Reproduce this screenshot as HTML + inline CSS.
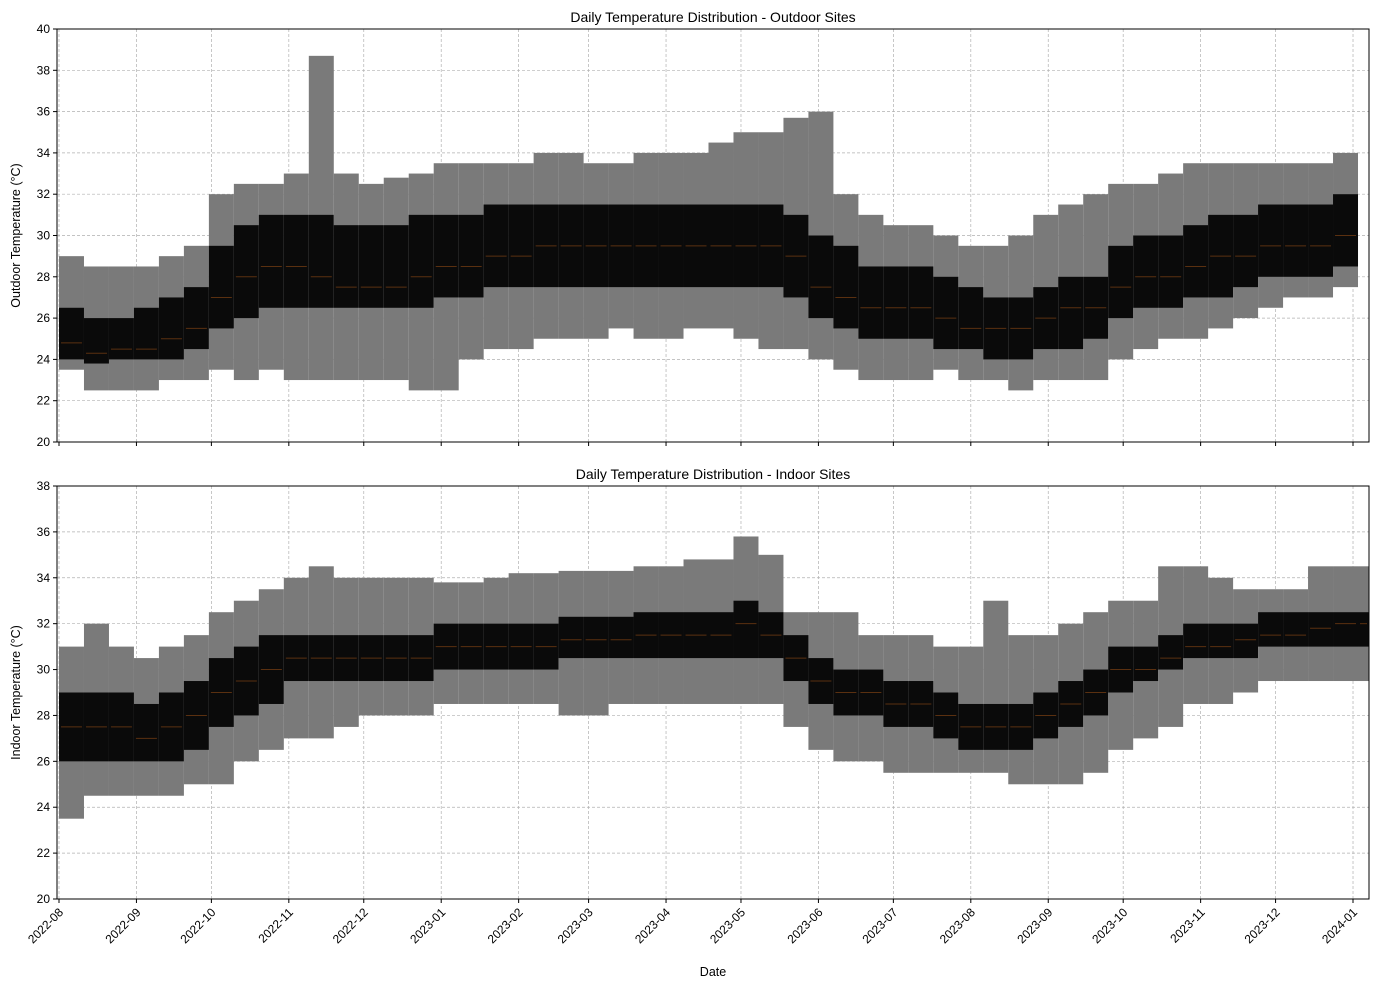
<!DOCTYPE html>
<html><head><meta charset="utf-8"><style>
body{margin:0;background:#fff;font-family:"Liberation Sans",sans-serif}
svg text{font-family:"Liberation Sans",sans-serif;fill:#000}
</style></head><body>
<svg id="c" width="1387" height="989" xmlns="http://www.w3.org/2000/svg"></svg>
<script>
const tickLabels=["2022-08","2022-09","2022-10","2022-11","2022-12","2023-01","2023-02","2023-03","2023-04","2023-05","2023-06","2023-07","2023-08","2023-09","2023-10","2023-11","2023-12","2024-01"];
const tickDays=[0,31,61,92,122,153,184,212,243,273,304,334,365,396,426,457,487,518];
const binDays=10;
const topLo=[23.5,22.5,22.5,22.5,23,23,23.5,23,23.5,23,23,23,23,23,22.5,22.5,24,24.5,24.5,25,25,25,25.5,25,25,25.5,25.5,25,24.5,24.5,24,23.5,23,23,23,23.5,23,23,22.5,23,23,23,24,24.5,25,25,25.5,26,26.5,27,27,27.5];
const topQ1=[24,23.8,24,24,24,24.5,25.5,26,26.5,26.5,26.5,26.5,26.5,26.5,26.5,27,27,27.5,27.5,27.5,27.5,27.5,27.5,27.5,27.5,27.5,27.5,27.5,27.5,27,26,25.5,25,25,25,24.5,24.5,24,24,24.5,24.5,25,26,26.5,26.5,27,27,27.5,28,28,28,28.5];
const topMed=[24.8,24.3,24.5,24.5,25,25.5,27,28,28.5,28.5,28,27.5,27.5,27.5,28,28.5,28.5,29,29,29.5,29.5,29.5,29.5,29.5,29.5,29.5,29.5,29.5,29.5,29,27.5,27,26.5,26.5,26.5,26,25.5,25.5,25.5,26,26.5,26.5,27.5,28,28,28.5,29,29,29.5,29.5,29.5,30];
const topQ3=[26.5,26,26,26.5,27,27.5,29.5,30.5,31,31,31,30.5,30.5,30.5,31,31,31,31.5,31.5,31.5,31.5,31.5,31.5,31.5,31.5,31.5,31.5,31.5,31.5,31,30,29.5,28.5,28.5,28.5,28,27.5,27,27,27.5,28,28,29.5,30,30,30.5,31,31,31.5,31.5,31.5,32];
const topHi=[29,28.5,28.5,28.5,29,29.5,32,32.5,32.5,33,38.7,33,32.5,32.8,33,33.5,33.5,33.5,33.5,34,34,33.5,33.5,34,34,34,34.5,35,35,35.7,36,32,31,30.5,30.5,30,29.5,29.5,30,31,31.5,32,32.5,32.5,33,33.5,33.5,33.5,33.5,33.5,33.5,34];
const botLo=[23.5,24.5,24.5,24.5,24.5,25,25,26,26.5,27,27,27.5,28,28,28,28.5,28.5,28.5,28.5,28.5,28,28,28.5,28.5,28.5,28.5,28.5,28.5,28.5,27.5,26.5,26,26,25.5,25.5,25.5,25.5,25.5,25,25,25,25.5,26.5,27,27.5,28.5,28.5,29,29.5,29.5,29.5,29.5,29.5];
const botQ1=[26,26,26,26,26,26.5,27.5,28,28.5,29.5,29.5,29.5,29.5,29.5,29.5,30,30,30,30,30,30.5,30.5,30.5,30.5,30.5,30.5,30.5,30.5,30.5,29.5,28.5,28,28,27.5,27.5,27,26.5,26.5,26.5,27,27.5,28,29,29.5,30,30.5,30.5,30.5,31,31,31,31,31];
const botMed=[27.5,27.5,27.5,27,27.5,28,29,29.5,30,30.5,30.5,30.5,30.5,30.5,30.5,31,31,31,31,31,31.3,31.3,31.3,31.5,31.5,31.5,31.5,32,31.5,30.5,29.5,29,29,28.5,28.5,28,27.5,27.5,27.5,28,28.5,29,30,30,30.5,31,31,31.3,31.5,31.5,31.8,32,32];
const botQ3=[29,29,29,28.5,29,29.5,30.5,31,31.5,31.5,31.5,31.5,31.5,31.5,31.5,32,32,32,32,32,32.3,32.3,32.3,32.5,32.5,32.5,32.5,33,32.5,31.5,30.5,30,30,29.5,29.5,29,28.5,28.5,28.5,29,29.5,30,31,31,31.5,32,32,32,32.5,32.5,32.5,32.5,32.5];
const botHi=[31,32,31,30.5,31,31.5,32.5,33,33.5,34,34.5,34,34,34,34,33.8,33.8,34,34.2,34.2,34.3,34.3,34.3,34.5,34.5,34.8,34.8,35.8,35,32.5,32.5,32.5,31.5,31.5,31.5,31,31,33,31.5,31.5,32,32.5,33,33,34.5,34.5,34,33.5,33.5,33.5,34.5,34.5,34.5];

const svg=document.getElementById('c');const NS='http://www.w3.org/2000/svg';
function mk(t,a,p){const e=document.createElementNS(NS,t);for(const k in a)e.setAttribute(k,a[k]);(p||svg).appendChild(e);return e;}
const X0=57,X1=1369,d0=-0.8,d1=524.4;
const xs=d=>X0+(d-d0)/(d1-d0)*(X1-X0);
function panel(name,top,bot,ymax,title,ylab,lo,q1,med,q3,hi,showX){
  const ys=v=>bot-(v-20)/(ymax-20)*(bot-top);
  const g=mk('g',{});
  
  
  for(let v=20;v<=ymax;v+=2){
    const gl=mk('line',{x1:X0,x2:X1,y1:ys(v),y2:ys(v),stroke:'#b0b0b0','stroke-width':0.7,'stroke-dasharray':'3,2'},g);
    
    
    mk('line',{x1:X0-4,x2:X0,y1:ys(v),y2:ys(v),stroke:'#000'},g);
    const t=mk('text',{x:X0-7,y:ys(v)+4,'text-anchor':'end','font-size':12},g);t.textContent=v;
    
    
  }
  tickDays.forEach((d,i)=>{
    const x=xs(d);
    mk('line',{x1:x,x2:x,y1:top,y2:bot,stroke:'#b0b0b0','stroke-width':0.7,'stroke-dasharray':'3,2'},g);
    mk('line',{x1:x,x2:x,y1:bot,y2:bot+4,stroke:'#000'},g);
    if(showX){const t=mk('text',{transform:`translate(${x+5},${bot+14}) rotate(-45)`,'text-anchor':'end','font-size':12},g);t.textContent=tickLabels[i];
      
      }
  });
  lo.forEach((v,i)=>{
    const xa=xs(i*binDays),xb=xs(Math.min((i+1)*binDays,d1));
    const w=mk('rect',{x:xa,y:ys(hi[i]),width:xb-xa,height:ys(v)-ys(hi[i]),fill:'#7a7a7a'},g);
    
    
    const b=mk('rect',{x:xa,y:ys(q3[i]),width:xb-xa,height:ys(q1[i])-ys(q3[i]),fill:'#0a0a0a'},g);
    
    
    mk('line',{x1:xa+2,x2:xb-2,y1:ys(med[i]),y2:ys(med[i]),stroke:'#5a3010','stroke-width':1},g);
  });
  mk('rect',{x:X0,y:top,width:X1-X0,height:bot-top,fill:'none',stroke:'#000'},g);
  const tt=mk('text',{x:(X0+X1)/2,y:top-7,'text-anchor':'middle','font-size':14},g);tt.textContent=title;
  
  
  const yl=mk('text',{transform:`translate(20,${(top+bot)/2}) rotate(-90)`,'text-anchor':'middle','font-size':12.5},g);yl.textContent=ylab;
  
  
}
panel('outdoor-panel',29,442,40,'Daily Temperature Distribution - Outdoor Sites','Outdoor Temperature (°C)',topLo,topQ1,topMed,topQ3,topHi,false);
panel('indoor-panel',486,899,38,'Daily Temperature Distribution - Indoor Sites','Indoor Temperature (°C)',botLo,botQ1,botMed,botQ3,botHi,true);
const xt=mk('text',{x:713,y:976,'text-anchor':'middle','font-size':12.5});xt.textContent='Date';


</script>
</body></html>
